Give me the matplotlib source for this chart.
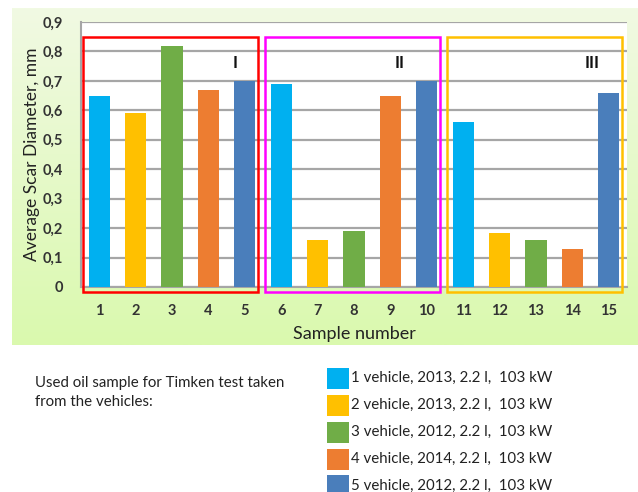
import numpy as np
import matplotlib
matplotlib.use("Agg")
import matplotlib.pyplot as plt
from matplotlib.patches import Rectangle

plt.rcParams['font.family'] = ['Lato', 'DejaVu Sans']

# donnees : 15 echantillons, 5 vehicules, 3 groupes (I, II, III)
samples = list(range(1, 16))
vehicle_labels = [
    "1 vehicle, 2013, 2.2 l,  103 kW",
    "2 vehicle, 2013, 2.2 l,  103 kW",
    "3 vehicle, 2012, 2.2 l,  103 kW",
    "4 vehicle, 2014, 2.2 l,  103 kW",
    "5 vehicle, 2012, 2.2 l,  103 kW",
]
vehicle_colors = ["#00B0F0", "#FFC000", "#70AD47", "#ED7D31", "#4A7EBB"]
# valeurs par vehicule : groupe I, II, III
v1 = [0.65, 0.69, 0.56]
v2 = [0.59, 0.16, 0.185]
v3 = [0.82, 0.19, 0.16]
v4 = [0.67, 0.65, 0.13]
v5 = [0.70, 0.70, 0.66]
vehicle_values = [v1, v2, v3, v4, v5]
group_names = ["I", "II", "III"]
group_colors = ["#FF0000", "#FF00FF", "#FFC000"]
yticks = [0, 0.1, 0.2, 0.3, 0.4, 0.5, 0.6, 0.7, 0.8, 0.9]

W, H = 638, 492
fig = plt.figure(figsize=(W / 100, H / 100), dpi=100)

# fond vert en degrade
bg = fig.add_axes([12 / W, 1 - 345 / H, (W - 12) / W, (345 - 8) / H], zorder=0)
grad = np.linspace(0, 1, 256).reshape(-1, 1)
top_c = np.array([0xF1, 0xFA, 0xE3]) / 255
bot_c = np.array([0xDA, 0xF9, 0xAE]) / 255
img = top_c[None, None, :] * (1 - grad[:, :, None]) + bot_c[None, None, :] * grad[:, :, None]
bg.imshow(img, aspect="auto", extent=[0, 1, 0, 1])
bg.axis("off")

ax = fig.add_axes([81 / W, 1 - 287 / H, (627 - 81) / W, (287 - 22) / H], zorder=1)
ax.set_facecolor("white")

for v in range(5):
    xs = [v + 1 + 5 * g for g in range(3)]
    ax.bar(xs, vehicle_values[v], width=0.58, color=vehicle_colors[v], zorder=3)

ax.set_xlim(0.5, 15.5)
ax.set_ylim(0, 0.9)
ax.set_yticks(yticks)
ax.set_yticklabels([("%g" % t).replace(".", ",") for t in yticks],
                   fontsize=10.5, fontweight="bold", color="#333333")
ax.set_xticks(samples)
ax.set_xticklabels([str(s) for s in samples], fontsize=10.5,
                   fontweight="bold", color="#333333")
ax.tick_params(length=0, pad=12)
ax.tick_params(axis="y", pad=13)
ax.yaxis.grid(True, color="#A6A6A6", linewidth=1.6, zorder=0)
for s in ["top", "right"]:
    ax.spines[s].set_visible(False)
ax.spines["left"].set_color("#A6A6A6")
ax.spines["bottom"].set_color("#A6A6A6")
ax.spines["left"].set_linewidth(1.5)
ax.spines["bottom"].set_linewidth(1.5)

ax.set_xlabel("Sample number", fontsize=13, color="#222222", labelpad=6)
ax.set_ylabel("Average Scar Diameter, mm", fontsize=12.5, color="#222222", labelpad=2)

# cadres des groupes
for g in range(3):
    x0 = 0.55 + 5 * g
    ax.add_patch(Rectangle((x0, -0.017), 4.82, 0.866, fill=False,
                           edgecolor=group_colors[g], linewidth=1.8,
                           clip_on=False, zorder=4))
    ax.text(4.73 + 5 * g - (0.47 if g == 1 else 0) - (0.2 if g == 2 else 0), 0.76,
            group_names[g], fontsize=12, fontweight="bold", ha="center",
            va="center", color="#111111", zorder=5)

fig.text(35 / W, 1 - 383 / H, "Used oil sample for Timken test taken",
         fontsize=10.8, color="#222222", va="center")
fig.text(35 / W, 1 - 402 / H, "from the vehicles:",
         fontsize=10.8, color="#222222", va="center")

# legende dessinee a la main
for i, (lab, col) in enumerate(zip(vehicle_labels, vehicle_colors)):
    yc = 378 + 27 * i
    fig.add_artist(Rectangle((327 / W, 1 - (yc + 10.5) / H), 22 / W, 21 / H,
                             transform=fig.transFigure, facecolor=col,
                             edgecolor="none"))
    fig.text(351 / W, 1 - yc / H, lab, fontsize=10.8, color="#222222", va="center")

plt.savefig("out.png", dpi=100)
